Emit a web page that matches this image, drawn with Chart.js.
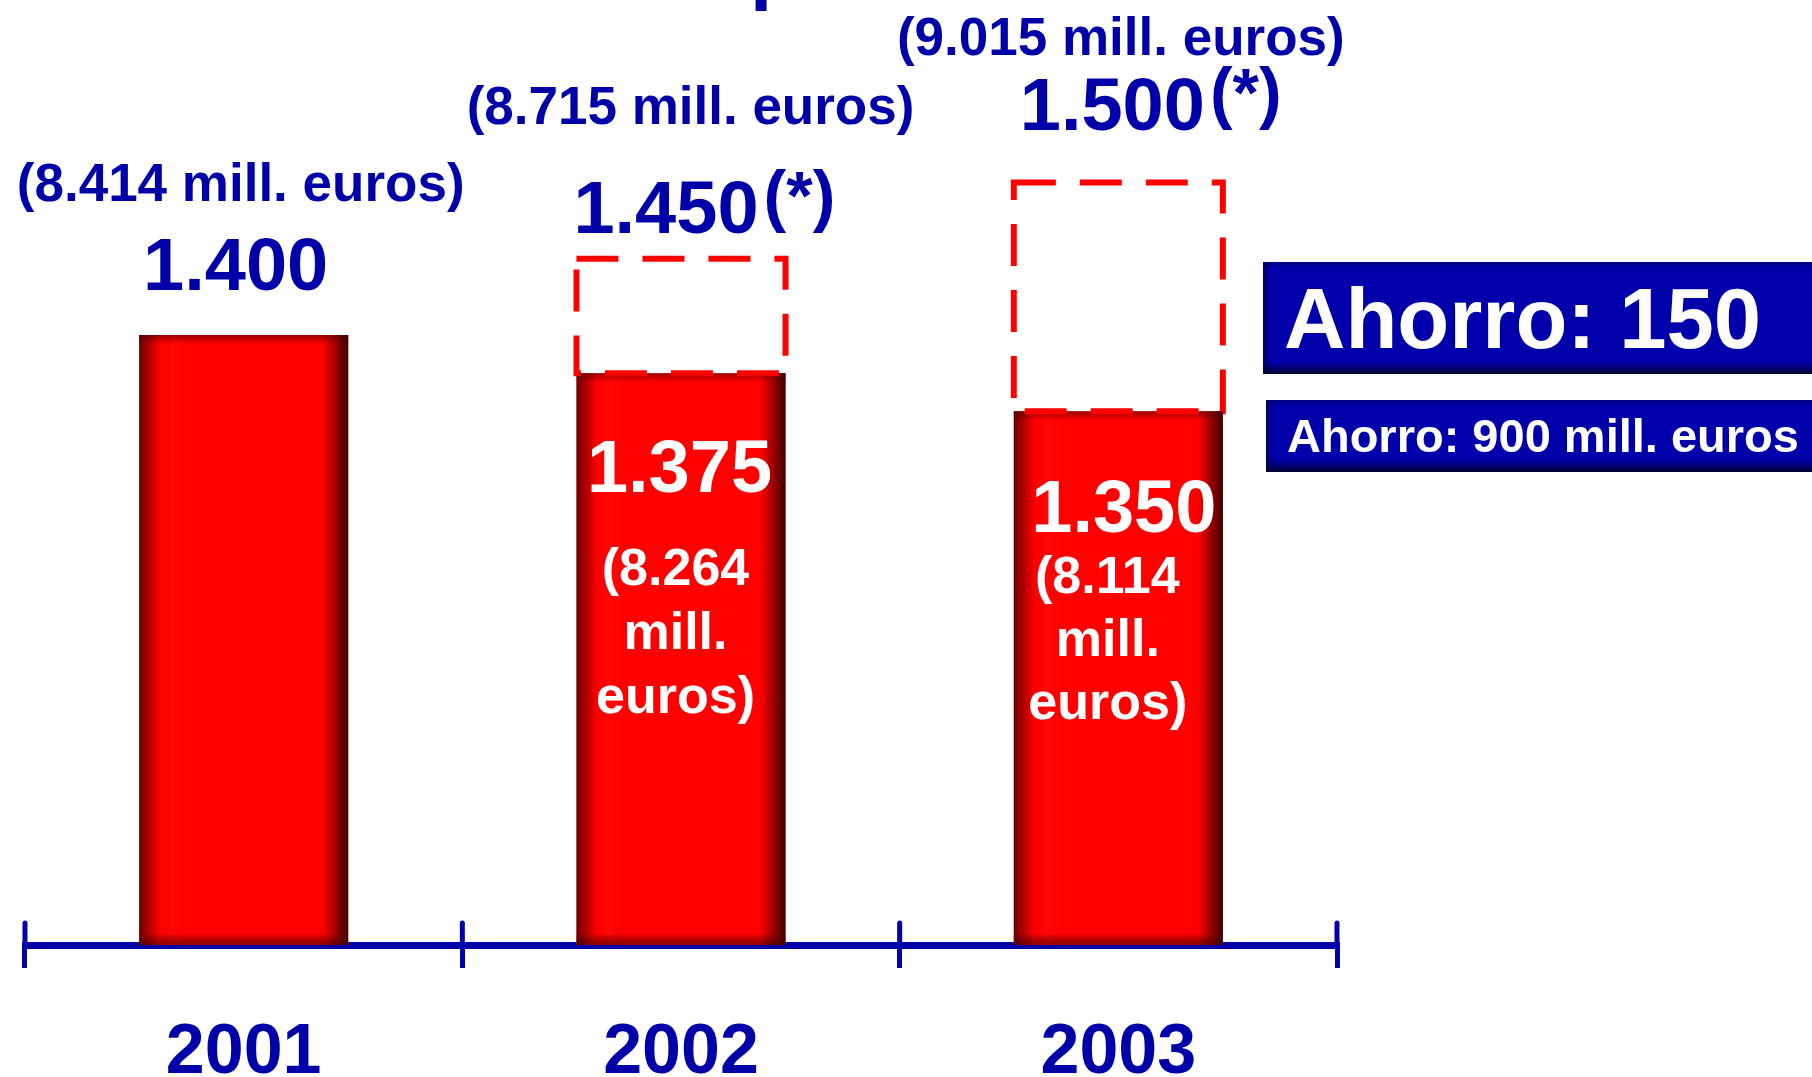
<!DOCTYPE html>
<html>
<head>
<meta charset="utf-8">
<script src="https://cdn.jsdelivr.net/npm/chart.js@4.4.1/dist/chart.umd.min.js"></script>
<style>
  html, body { margin: 0; padding: 0; background: #fff; overflow: hidden; }
</style>
</head>
<body>
<canvas id="chartPlantilla" width="1812" height="1077"></canvas>
<script>
const years = ['2001', '2002', '2003'];
const realValues = [1400, 1375, 1350];        // plantilla real
const plannedValues = [null, 1450, 1500];     // plantilla prevista (*)
const realEuros = [8414, 8264, 8114];         // mill. euros
const plannedEuros = [null, 8715, 9015];      // mill. euros
const savingUnits = 150;
const savingEuros = 900;

const BLUE = '#0000A8';
const RED = '#FF0000';
const FONT = '"Liberation Sans", Arial, Helvetica, sans-serif';

// offsets of the texts, relative to bar centre and value pixel
const topLabelOffsets = [
    { num: [-8, -45], euros: [-3, -134] },
    { num: [-15, -26], euros: [9.5, -135] },
    { num: [-6, -53], euros: [2.5, -128] }
];
const innerLabelOffsets = [
    null,
    { num: [-1.5, 119], lines: [[-5.5, 212], [-5.5, 276], [-5.5, 340]] },
    { num: [5.5, 121], lines: [[-11, 182], [-10.5, 245], [-10.5, 308]] }
];
const savingBoxes = [
    { x: 1263, y: 262, w: 560, h: 112, size: 85, tx: 1284, ty: 348 },
    { x: 1266, y: 400, w: 560, h: 72, size: 47, tx: 1287, ty: 452 }
];

function fmt(n) {
    return String(n).replace(/\B(?=(\d{3})+(?!\d))/g, '.');
}

function text(ctx, str, x, y, size, color, align) {
    ctx.font = 'bold ' + size + 'px ' + FONT;
    ctx.fillStyle = color;
    ctx.textAlign = align || 'center';
    ctx.textBaseline = 'alphabetic';
    ctx.fillText(str, x, y);
}

// dark bevel on the red bars
const barShading = {
    id: 'barShading',
    afterDatasetDraw(chart, args) {
        if (args.index !== 0) return;
        const ctx = chart.ctx;
        const bottom = chart.chartArea.bottom;
        args.meta.data.forEach(bar => {
            const {x, y, base, width} = bar.getProps(['x', 'y', 'base', 'width'], true);
            const b = Math.min(base, bottom);
            const l = x - width / 2;
            const h = b - y;
            ctx.save();
            let g = ctx.createLinearGradient(l, 0, l + width, 0);
            g.addColorStop(0, 'rgba(70,0,0,0.8)');
            g.addColorStop(0.1, 'rgba(70,0,0,0)');
            g.addColorStop(0.16, 'rgba(255,60,60,0.12)');
            g.addColorStop(0.22, 'rgba(255,60,60,0)');
            g.addColorStop(0.88, 'rgba(40,0,0,0)');
            g.addColorStop(1, 'rgba(40,0,0,0.9)');
            ctx.fillStyle = g;
            ctx.fillRect(l, y, width, h);
            g = ctx.createLinearGradient(0, y, 0, y + 9);
            g.addColorStop(0, 'rgba(70,0,0,0.55)');
            g.addColorStop(1, 'rgba(70,0,0,0)');
            ctx.fillStyle = g;
            ctx.fillRect(l, y, width, 9);
            g = ctx.createLinearGradient(0, b - 12, 0, b - 3);
            g.addColorStop(0, 'rgba(70,0,0,0)');
            g.addColorStop(1, 'rgba(70,0,0,0.55)');
            ctx.fillStyle = g;
            ctx.fillRect(l, b - 12, width, 12);
            ctx.restore();
        });
    }
};

// dashed outline of the planned headcount
const plannedOutline = {
    id: 'plannedOutline',
    afterDatasetsDraw(chart) {
        const ctx = chart.ctx;
        chart.getDatasetMeta(1).data.forEach((bar, i) => {
            if (plannedValues[i] == null) return;
            const {x, y, base, width} = bar.getProps(['x', 'y', 'base', 'width'], true);
            ctx.save();
            ctx.setLineDash([42, 24]);
            ctx.lineWidth = 6;
            ctx.strokeStyle = RED;
            ctx.strokeRect(x - width / 2, y, width, base - y);
            ctx.restore();
        });
    }
};

const annotations = {
    id: 'annotations',
    afterDraw(chart) {
        const ctx = chart.ctx;
        const yScale = chart.scales.y;
        const xScale = chart.scales.x;

        // upper half of the axis ticks
        ctx.save();
        ctx.strokeStyle = BLUE;
        ctx.lineWidth = 5;
        ctx.lineCap = 'round';
        for (let k = 0; k <= years.length; k++) {
            const px = xScale.getPixelForValue(k - 0.5);
            ctx.beginPath();
            ctx.moveTo(px, xScale.top - 22);
            ctx.lineTo(px, xScale.top);
            ctx.stroke();
        }
        ctx.restore();

        // title descender cut at the top
        text(ctx, 'p', 750, -6, 80, BLUE, 'left');

        chart.getDatasetMeta(0).data.forEach((bar, i) => {
            const cx = bar.x;
            const planned = plannedValues[i] != null;
            const value = planned ? plannedValues[i] : realValues[i];
            const refY = yScale.getPixelForValue(value);
            const o = topLabelOffsets[i];
            const numStr = fmt(value);
            text(ctx, numStr, cx + o.num[0], refY + o.num[1], 74, BLUE);
            if (planned) {
                ctx.font = 'bold 74px ' + FONT;
                const w = ctx.measureText(numStr).width;
                text(ctx, '(*)', cx + o.num[0] + w / 2 + 5, refY + o.num[1] - 14, 68, BLUE, 'left');
            }
            const eur = planned ? plannedEuros[i] : realEuros[i];
            text(ctx, '(' + fmt(eur) + ' mill. euros)', cx + o.euros[0], refY + o.euros[1], 53, BLUE);

            const inner = innerLabelOffsets[i];
            if (inner) {
                const yr = yScale.getPixelForValue(realValues[i]);
                text(ctx, fmt(realValues[i]), cx + inner.num[0], yr + inner.num[1], 74, '#fff');
                const lines = ['(' + fmt(realEuros[i]), 'mill.', 'euros)'];
                lines.forEach((s, k) => text(ctx, s, cx + inner.lines[k][0], yr + inner.lines[k][1], 52, '#fff'));
            }
        });

        // savings boxes
        const boxTexts = ['Ahorro: ' + savingUnits, 'Ahorro: ' + savingEuros + ' mill. euros'];
        savingBoxes.forEach((b, i) => {
            ctx.save();
            ctx.fillStyle = '#0000AA';
            ctx.fillRect(b.x, b.y, b.w, b.h);
            let g = ctx.createLinearGradient(0, b.y + b.h - 12, 0, b.y + b.h);
            g.addColorStop(0, 'rgba(0,0,30,0)');
            g.addColorStop(1, 'rgba(0,0,30,0.85)');
            ctx.fillStyle = g;
            ctx.fillRect(b.x, b.y + b.h - 12, b.w, 12);
            g = ctx.createLinearGradient(0, b.y, 0, b.y + 6);
            g.addColorStop(0, 'rgba(0,0,40,0.35)');
            g.addColorStop(1, 'rgba(0,0,40,0)');
            ctx.fillStyle = g;
            ctx.fillRect(b.x, b.y, b.w, 6);
            g = ctx.createLinearGradient(b.x, 0, b.x + 8, 0);
            g.addColorStop(0, 'rgba(0,0,40,0.5)');
            g.addColorStop(1, 'rgba(0,0,40,0)');
            ctx.fillStyle = g;
            ctx.fillRect(b.x, b.y, 8, b.h);
            ctx.restore();
            text(ctx, boxTexts[i], b.tx, b.ty, b.size, '#fff', 'left');
        });
    }
};

Chart.defaults.font.family = FONT;

new Chart(document.getElementById('chartPlantilla'), {
    type: 'bar',
    data: {
        labels: years,
        datasets: [{
            label: 'Real',
            data: realValues,
            backgroundColor: RED,
            borderWidth: 0
        }, {
            label: 'Prevista',
            data: plannedValues.map((v, i) => v == null ? null : [realValues[i], v]),
            backgroundColor: 'rgba(0,0,0,0)',
            borderWidth: 0
        }]
    },
    options: {
        responsive: false,
        animation: false,
        devicePixelRatio: 1,
        events: [],
        layout: { padding: { top: 30, left: 25, right: 475, bottom: 0 } },
        datasets: {
            bar: { grouped: false, categoryPercentage: 1, barPercentage: 0.478 }
        },
        plugins: { legend: { display: false }, tooltip: { enabled: false } },
        scales: {
            x: {
                offset: true,
                afterFit(scale) { scale.height = 132; },
                grid: {
                    offset: true,
                    drawOnChartArea: false,
                    drawTicks: true,
                    tickLength: 23,
                    lineWidth: 5,
                    color: BLUE
                },
                border: { display: true, width: 7, color: BLUE },
                ticks: {
                    color: BLUE,
                    padding: 58,
                    font: { size: 70, weight: 'bold', lineHeight: 0.8 }
                }
            },
            y: { display: false, min: 1000, max: 1600 }
        }
    },
    plugins: [barShading, plannedOutline, annotations]
});
</script>
</body>
</html>
